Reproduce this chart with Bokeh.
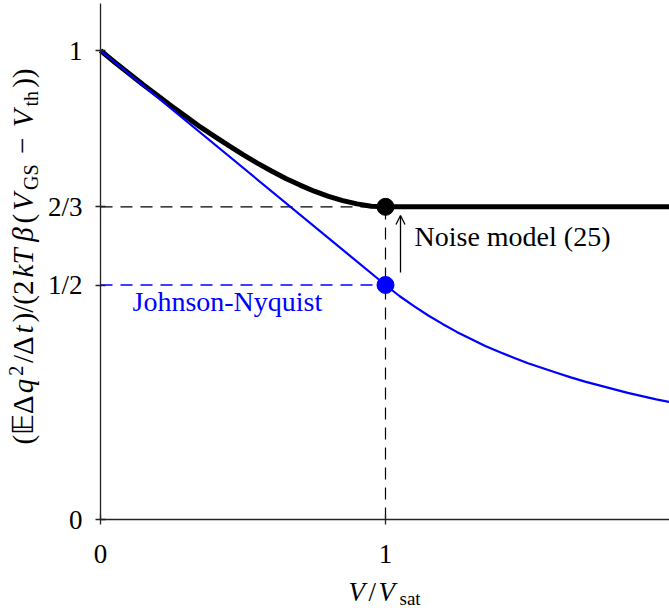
import math
from bokeh.plotting import figure
from bokeh.models import (Range1d, FixedTicker, CustomJSTickFormatter, Label,
                          Arrow, OpenHead)
from bokeh.embed import file_html
from bokeh.resources import INLINE

# ---------------- data ----------------
# Noise model (25): thick black curve, flat after saturation
v_model = [0.0, 0.05, 0.1, 0.15, 0.2, 0.25, 0.3, 0.35, 0.4, 0.45, 0.5, 0.55,
           0.6, 0.65, 0.7, 0.75, 0.8, 0.85, 0.9, 0.95, 1.0, 2.0]
g_model = [1.0, 0.975, 0.951, 0.927, 0.904, 0.881, 0.859, 0.837, 0.817, 0.797,
           0.778, 0.760, 0.743, 0.727, 0.713, 0.700, 0.689, 0.680, 0.673, 0.668,
           0.667, 0.667]
# Johnson-Nyquist: thin blue curve
v_jn = [0.0, 1.0, 1.05, 1.1, 1.15, 1.2, 1.25, 1.3, 1.35, 1.4, 1.45, 1.5, 1.55,
        1.6, 1.65, 1.7, 1.75, 1.8, 1.85, 1.9, 1.95, 2.0]
g_jn = [1.0, 0.5, 0.476, 0.455, 0.435, 0.417, 0.400, 0.385, 0.370, 0.357, 0.345,
        0.333, 0.323, 0.313, 0.303, 0.294, 0.286, 0.278, 0.270, 0.263, 0.256, 0.250]

v_sat = 1.0
g_sat_model = 2.0 / 3.0
g_sat_jn = 0.5

x_ticks = [0, 1]
x_tick_labels = ["0", "1"]
y_ticks = [0, 0.5, 2.0 / 3.0, 1]
y_tick_labels = ["0", "1/2", "2/3", "1"]

x_max = 2.0
y_max = 1.1

# ---------------- layout helpers ----------------
FONT = "Liberation Serif"
F = "27px"
BLUE = "#0000ff"
W, H = 669, 608


def X(px):
    return (px - 100) / 285.0


def Y(py):
    return (519 - py) / 469.0


def off(size_px):
    # empirical shift between requested and drawn baseline
    return 0.37 * size_px


p = figure(width=W, height=H, output_backend="svg", toolbar_location=None,
           x_range=Range1d(X(0), X(W)), y_range=Range1d(Y(H), Y(0)),
           min_border_left=0, min_border_right=0, min_border_top=0,
           min_border_bottom=0)
p.grid.visible = False
p.outline_line_color = None
p.background_fill_color = "white"
p.border_fill_color = "white"

p.xaxis.fixed_location = 0
p.yaxis.fixed_location = 0
p.xaxis.bounds = (0, x_max)
p.yaxis.bounds = (0, y_max)

for ax in (p.xaxis[0], p.yaxis[0]):
    ax.axis_line_color = "#222222"
    ax.axis_line_width = 1.3
    ax.major_tick_line_color = "#222222"
    ax.major_tick_line_width = 1.3
    ax.major_tick_in = 5
    ax.major_tick_out = 5
    ax.minor_tick_line_color = None
    ax.major_label_text_font = FONT
    ax.major_label_text_font_size = F
    ax.major_label_text_color = "black"
    ax.axis_label = None

p.xaxis.ticker = FixedTicker(ticks=x_ticks)
p.yaxis.ticker = FixedTicker(ticks=y_ticks)
fmt_code = """
for (let i = 0; i < vals.length; i++) {
  if (Math.abs(tick - vals[i]) < 1e-6) return labs[i];
}
return "";
"""
p.xaxis.formatter = CustomJSTickFormatter(args=dict(vals=x_ticks, labs=x_tick_labels), code=fmt_code)
p.yaxis.formatter = CustomJSTickFormatter(args=dict(vals=y_ticks, labs=y_tick_labels), code=fmt_code)
p.xaxis.major_label_standoff = 20
p.yaxis.major_label_standoff = 13

# ---------------- guide lines ----------------
p.line([0, v_sat], [g_sat_model, g_sat_model], line_color="black", line_width=1.2, line_dash="12 8")
p.line([0, v_sat], [g_sat_jn, g_sat_jn], line_color=BLUE, line_width=1.3, line_dash="12 8")
p.line([v_sat, v_sat], [0, g_sat_model], line_color="black", line_width=1.2, line_dash="12 8")

# ---------------- curves ----------------
p.line(v_model, g_model, line_color="black", line_width=5)
p.line(v_jn, g_jn, line_color=BLUE, line_width=2.2)
p.scatter([v_sat], [g_sat_model], size=17, color="black")
p.scatter([v_sat], [g_sat_jn], size=17, color=BLUE)

# ---------------- annotations ----------------
p.add_layout(Arrow(end=OpenHead(size=9, line_width=1.3, line_color="black"),
                   x_start=X(400), y_start=Y(272), x_end=X(400), y_end=Y(215),
                   line_width=1.3, line_color="black"))
p.add_layout(Label(x=X(414), y=Y(246 - off(28)), text="Noise model (25)", text_font=FONT,
                   text_font_size="28px", text_color="black", text_align="left",
                   text_baseline="alphabetic"))
p.add_layout(Label(x=X(132), y=Y(311 - off(28)), text="Johnson-Nyquist", text_font=FONT,
                   text_font_size="28px", text_color=BLUE, text_align="left",
                   text_baseline="alphabetic"))

# x axis label  V/V_sat
for txt, style, size, px, py in [("V", "italic", 27, 348, 601), ("/", "normal", 27, 368, 601),
                                 ("V", "italic", 27, 378, 601), ("sat", "normal", 19, 399, 605)]:
    p.add_layout(Label(x=X(px), y=Y(py - off(size)), text=txt, text_font=FONT,
                       text_font_size=f"{size}px", text_font_style=style,
                       text_color="black", text_align="left", text_baseline="alphabetic"))

# y axis label (rotated), laid out piece by piece from bottom to top
YF, YS = 29, 20
BASE, SUP, SUB = 33, 23, 38
pieces = [
    ("(\U0001D53C\u0394", "normal", YF, BASE, 1.625),
    ("q", "italic", YF, BASE, 0.5),
    ("2", "normal", YS, SUP, 0.5),
    ("/\u0394", "normal", YF, BASE, 0.89),
    ("t", "italic", YF, BASE, 0.278),
    (")/(2", "normal", YF, BASE, 1.444),
    ("kT \u03B2", "italic", YF, BASE, 1.75),
    ("(", "normal", YF, BASE, 0.333),
    ("V", "italic", YF, BASE, 0.611),
    ("GS", "normal", YS, SUB, 1.278),
    ("\u2212", "normal", YF, BASE, 1.064),
    ("V", "italic", YF, BASE, 0.611),
    ("th", "normal", YS, SUB, 0.778),
    ("))", "normal", YF, BASE, 0.667),
]
widths = [w * sz for _, _, sz, _, w in pieces]
gap = ((443 - 68) - sum(widths)) / (len(pieces) - 1)
pos = 443.0
for (txt, style, size, bx, _), w in zip(pieces, widths):
    mid = pos - w / 2.0
    p.add_layout(Label(x=X(bx - off(size)), y=Y(mid), text=txt, text_font=FONT,
                       text_font_size=f"{size}px", text_font_style=style,
                       text_color="black", text_align="center",
                       text_baseline="alphabetic", angle=math.pi / 2))
    pos -= w + gap

open("out.html", "w").write(file_html(p, INLINE))
